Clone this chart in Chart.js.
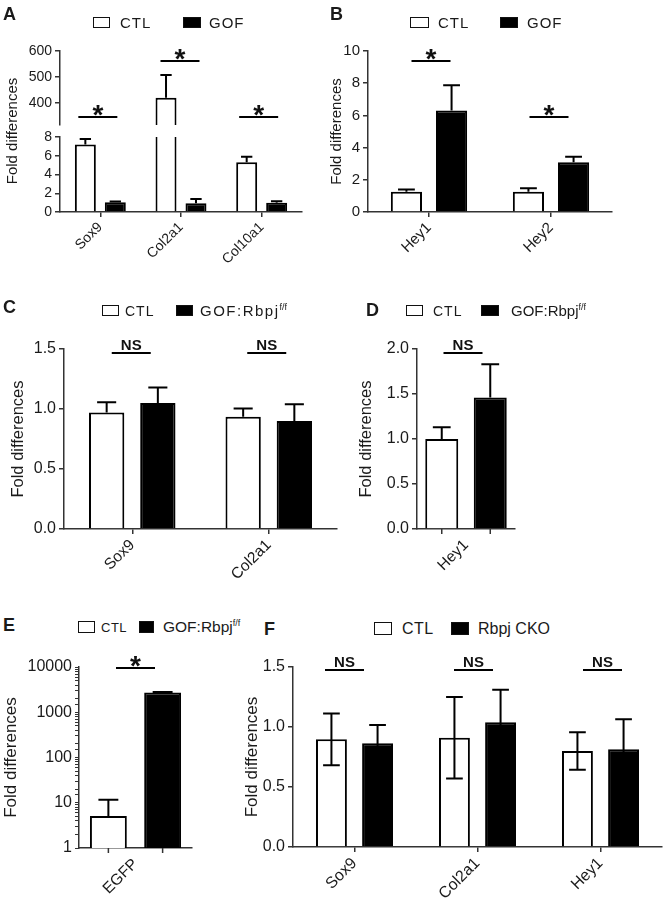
<!DOCTYPE html>
<html>
<head>
<meta charset="utf-8">
<script src="https://cdn.jsdelivr.net/npm/chart.js@4.4.1/dist/chart.umd.min.js"></script>
<style>
  body { margin: 0; background: #fff; }
  #fig { position: relative; width: 666px; height: 911px; overflow: hidden;
         font-family: "Liberation Sans", Arial, sans-serif; color: #1a1a1a; }
  #fig canvas { position: absolute; }
  .letter { position: absolute; font-weight: bold; font-size: 18px; line-height: 1; }
  .box { position: absolute; box-sizing: border-box; border: 1.6px solid #111; background: #fff; }
  .box.fill { background: #000; }
  .txt { position: absolute; line-height: 1; white-space: nowrap; }
  .sup { font-size: 9px; position: relative; top: -6px; letter-spacing: 0; }
</style>
</head>
<body>
<div id="fig"></div>
<script>
// -------------------- DATA -------------------
// A
const genesA = ['Sox9', 'Col2a1', 'Col10a1'];
const ctlA = [7.2, 420, 5.3];
const ctlErrA = [0.6, 88, 0.6];
const gofA = [1.05, 0.93, 1.0];
const gofErrA = [0.08, 0.45, 0.15];
const sigA = ['*', '*', '*'];

// B
const genesB = ['Hey1', 'Hey2'];
const ctlB = [1.26, 1.26];
const ctlErrB = [0.14, 0.21];
const gofB = [6.3, 3.09];
const gofErrB = [1.57, 0.34];
const sigB = ['*', '*'];

// C
const genesC = ['Sox9', 'Col2a1'];
const ctlC = [0.97, 0.935];
const ctlErrC = [0.086, 0.07];
const gofC = [1.05, 0.90];
const gofErrC = [0.13, 0.14];
const sigC = ['NS', 'NS'];

// D
const genesD = ['Hey1'];
const ctlD = [1.0];
const ctlErrD = [0.13];
const gofD = [1.46];
const gofErrD = [0.37];
const sigD = ['NS'];

// E
const genesE = ['EGFP'];
const ctlE = [5.1];
const ctlErrE = [6.6];
const gofE = [2740];
const gofErrE = [60];
const sigE = ['*'];
const logTicksE = [1, 10, 100, 1000, 10000];

// F
const genesF = ['Sox9', 'Col2a1', 'Hey1'];
const ctlF = [0.897, 0.91, 0.80];
const ctlErrF = [0.215, 0.34, 0.157];
const gofF = [0.864, 1.04, 0.814];
const gofErrF = [0.153, 0.27, 0.25];
const sigF = ['NS', 'NS', 'NS'];

// -------------------- GLOBALS -------------------
const FONT = '"Liberation Sans", Arial, sans-serif';
const AXIS = '#333';
const TXT = '#1a1a1a';
const TITLE_PAD = 2;
const X_HEIGHT = 60;
let Fig = document.getElementById('fig');

Chart.defaults.font.family = FONT;
Chart.defaults.color = TXT;

// -------------------- FUNCTIONS -------------------
function Frame(p) {
  // works out canvas placement so that the plot area lands on p.plot
  let half = p.titleSize * 1.2 / 2;
  let left = Math.round(p.titleX - TITLE_PAD - half);
  let [l, t, r, b] = p.plot;
  let width = r + 4 - left;
  let canvas = document.createElement('canvas');
  canvas.width = width; canvas.height = p.height;
  canvas.style.left = left + 'px';
  canvas.style.top = p.top + 'px';
  canvas.style.width = width + 'px';
  canvas.style.height = p.height + 'px';
  Fig.appendChild(canvas);
  p.yWidth = l - left;
  p.padding = {left: 0, right: 4, top: t - p.top, bottom: p.top + p.height - b - X_HEIGHT};
  return canvas;
}

function YAxis(p, extra) {
  let axis = {
    position: 'left',
    stacked: false,
    border: {color: AXIS, width: 1.5},
    grid: {drawOnChartArea: false, tickLength: 5, color: AXIS, lineWidth: 1.5},
    ticks: {font: {size: p.tickSize}, color: TXT, padding: 3, autoSkip: false},
    title: {display: true, text: 'Fold differences', color: TXT,
            font: {size: p.titleSize}, padding: {top: TITLE_PAD, bottom: 0}},
    afterFit: s => { s.width = p.yWidth; }
  };
  for (let k in extra) {
    if (typeof extra[k] === 'object' && axis[k]) Object.assign(axis[k], extra[k]);
    else axis[k] = extra[k];
  }
  return axis;
}

function XAxis(p) {
  return {
    type: 'category',
    offset: true,
    border: {color: AXIS, width: 1.5},
    grid: {drawOnChartArea: false, offset: false, tickLength: 5,
           color: p.barTicks ? 'rgba(0,0,0,0)' : AXIS, lineWidth: 1.5},
    ticks: {font: {size: p.xSize}, color: TXT, minRotation: 45, maxRotation: 45,
            autoSkip: false, padding: 2},
    afterFit: s => { s.height = X_HEIGHT; }
  };
}

function Bars(label, data, errors, filled, axis, both) {
  return {
    label: label,
    data: data,
    errors: errors,
    bothWays: !!both,
    yAxisID: axis || 'y',
    backgroundColor: filled ? '#000' : '#fff',
    borderColor: '#000',
    borderWidth: 2
  };
}

function Extras(p) {
  return {
    id: 'extras',
    beforeDatasetDraw(chart, args) {
      // each dataset is kept inside its own y axis band
      let ys = chart.scales[args.meta.yAxisID];
      let area = chart.chartArea;
      chart.ctx.save();
      chart.ctx.beginPath();
      chart.ctx.rect(area.left, ys.top, area.width + 2, ys.bottom - ys.top + 2);
      chart.ctx.clip();
    },
    afterDatasetDraw(chart, args) {
      let ctx = chart.ctx;
      let ds = chart.data.datasets[args.index];
      let ys = chart.scales[args.meta.yAxisID];
      ctx.lineWidth = 2;
      ctx.strokeStyle = '#000';
      args.meta.data.forEach((bar, i) => {
        let v = ds.data[i];
        if (v === null || v === undefined) return;
        let hi = ys.getPixelForValue(v + ds.errors[i]);
        let lo = ds.bothWays ? ys.getPixelForValue(v - ds.errors[i]) : bar.y;
        let cap = bar.width * 0.27;
        ctx.beginPath();
        ctx.moveTo(bar.x, lo); ctx.lineTo(bar.x, hi);
        ctx.moveTo(bar.x - cap, hi); ctx.lineTo(bar.x + cap, hi);
        if (ds.bothWays) { ctx.moveTo(bar.x - cap, lo); ctx.lineTo(bar.x + cap, lo); }
        ctx.stroke();
      });
      ctx.restore();
    },
    afterDraw(chart) {
      let ctx = chart.ctx;
      let xs = chart.scales.x;
      let ys = chart.scales[p.sigAxis || 'y'];
      ctx.save();
      ctx.strokeStyle = '#000';
      ctx.fillStyle = '#111';
      ctx.lineWidth = 2;
      ctx.textAlign = 'center';
      ctx.textBaseline = 'alphabetic';
      p.sig.forEach((txt, i) => {
        let cx = xs.getPixelForValue(i) + p.sigDx[i];
        let y = Math.round(ys.getPixelForValue(p.sigY[i]));
        ctx.beginPath();
        ctx.moveTo(cx - 19.5, y); ctx.lineTo(cx + 19.5, y);
        ctx.stroke();
        if (txt === '*') {
          ctx.font = 'bold 28px ' + FONT;
          ctx.fillText(txt, cx, y + 6.5);
        } else {
          ctx.font = 'bold 15px ' + FONT;
          ctx.fillText(txt, cx, y - 3.5);
        }
      });
      if (p.barTicks) {
        let bottom = chart.chartArea.bottom;
        ctx.lineWidth = 1.5;
        ctx.strokeStyle = AXIS;
        chart.data.datasets.forEach((d, k) => {
          chart.getDatasetMeta(k).data.forEach(bar => {
            ctx.beginPath();
            ctx.moveTo(bar.x, bottom); ctx.lineTo(bar.x, bottom + 5);
            ctx.stroke();
          });
        });
      }
      ctx.restore();
    }
  };
}

function Options(p, scales) {
  return {
    responsive: false,
    animation: false,
    events: [],
    layout: {autoPadding: false, padding: p.padding},
    datasets: {bar: {categoryPercentage: p.cat, barPercentage: p.bar}},
    plugins: {legend: {display: false}, tooltip: {enabled: false}},
    scales: scales
  };
}

function PrintBars(p, labels, datasets, scales) {
  let canvas = Frame(p);
  return new Chart(canvas, {
    type: 'bar',
    data: {labels: labels, datasets: datasets},
    options: Options(p, scales(p)),
    plugins: [Extras(p)]
  });
}

function Letter(ch, x, y) {
  let d = document.createElement('div');
  d.className = 'letter';
  d.style.left = x + 'px'; d.style.top = y + 'px';
  d.textContent = ch;
  Fig.appendChild(d);
}

function LegendItem(x, y, w, h, filled, text, tx, size, spacing) {
  let b = document.createElement('div');
  b.className = filled ? 'box fill' : 'box';
  b.style.left = x + 'px'; b.style.top = y + 'px';
  b.style.width = w + 'px'; b.style.height = h + 'px';
  Fig.appendChild(b);
  let t = document.createElement('div');
  t.className = 'txt';
  t.style.left = tx + 'px';
  t.style.top = (y + h / 2 - size * 0.49) + 'px';
  t.style.fontSize = size + 'px';
  t.style.letterSpacing = spacing + 'px';
  t.innerHTML = text;
  Fig.appendChild(t);
}

// -------------------- PANELS -------------------
const GOF_RBPJ = 'GOF:Rbpj<span class="sup">f/f</span>';

// A: broken y axis made of two stacked scales with a gap scale between
// (left-hand stacks are laid out last-key-first, so the low band is listed first)
PrintBars(
  {top: 0, height: 290, plot: [60, 51, 302, 212], titleX: 13, titleSize: 15, tickSize: 14, xSize: 14,
   cat: 0.743, bar: 0.70, sig: sigA, sigY: [346, 562, 346], sigDx: [-2.5, -1, -3], sigAxis: 'yTop'},
  genesA,
  [
    Bars('CTL', ctlA, ctlErrA, false, 'yLow'),
    Bars('CTL', ctlA.map(v => v > 8 ? v : null), ctlErrA, false, 'yTop'),
    Bars('GOF', gofA, gofErrA, true, 'yLow')
  ].map((d, i) => Object.assign(d, {stack: i < 2 ? 'ctl' : 'gof'})),
  p => ({
    x: XAxis(p),
    yLow: YAxis(p, {min: 0, max: 8, stack: 'ya', stackWeight: 75,
                    ticks: {stepSize: 2}, title: {display: false}}),
    yGap: YAxis(p, {min: 0, max: 1, stack: 'ya', stackWeight: 12,
                    border: {display: false}, grid: {display: false}, ticks: {display: false}}),
    yTop: YAxis(p, {min: 315, max: 600, stack: 'ya', stackWeight: 74,
                    ticks: {stepSize: 100, includeBounds: false}, title: {display: false}})
  })
);

// B
PrintBars(
  {top: 0, height: 290, plot: [368, 51, 612, 212], titleX: 337, titleSize: 15, tickSize: 15, xSize: 15,
   cat: 0.74, bar: 0.69, sig: sigB, sigY: [9.38, 5.9], sigDx: [2, -2]},
  genesB,
  [Bars('CTL', ctlB, ctlErrB, false), Bars('GOF', gofB, gofErrB, true)],
  p => ({x: XAxis(p), y: YAxis(p, {min: 0, max: 10, ticks: {stepSize: 2}})})
);

// C
PrintBars(
  {top: 290, height: 300, plot: [64, 349, 337, 529], titleX: 19, titleSize: 16.5, tickSize: 16, xSize: 15.5,
   cat: 0.75, bar: 0.69, sig: sigC, sigY: [1.47, 1.47], sigDx: [-1, -2]},
  genesC,
  [Bars('CTL', ctlC, ctlErrC, false), Bars('GOF:Rbpj f/f', gofC, gofErrC, true)],
  p => ({x: XAxis(p), y: YAxis(p, {min: 0, max: 1.5, ticks: {stepSize: 0.5, callback: v => v.toFixed(1)}})})
);

// D
PrintBars(
  {top: 290, height: 300, plot: [417, 349, 515, 529], titleX: 367, titleSize: 16.5, tickSize: 16, xSize: 15.5,
   cat: 0.99, bar: 0.68, sig: sigD, sigY: [1.96], sigDx: [-3], barTicks: true},
  genesD,
  [Bars('CTL', ctlD, ctlErrD, false), Bars('GOF:Rbpj f/f', gofD, gofErrD, true)],
  p => ({x: XAxis(p), y: YAxis(p, {min: 0, max: 2, ticks: {stepSize: 0.5, callback: v => v.toFixed(1)}})})
);

// E (log scale)
PrintBars(
  {top: 640, height: 271, plot: [79, 667, 192, 848], titleX: 11, titleSize: 17, tickSize: 16, xSize: 15.5,
   cat: 0.96, bar: 0.68, sig: sigE, sigY: [9500], sigDx: [0], barTicks: true},
  genesE,
  [Bars('CTL', ctlE, ctlErrE, false), Bars('GOF:Rbpj f/f', gofE, gofErrE, true)],
  p => ({x: XAxis(p), y: YAxis(p, {type: 'logarithmic', min: 1, max: 10000,
    grid: {tickLength: 4, lineWidth: 1},
    ticks: {callback: v => logTicksE.includes(v) ? String(v) : ''}})})
);

// F (error bars both ways)
PrintBars(
  {top: 640, height: 271, plot: [293, 667, 662, 847], titleX: 252, titleSize: 17, tickSize: 16, xSize: 16,
   cat: 0.75, bar: 0.67, sig: sigF, sigY: [1.475, 1.475, 1.475], sigDx: [-10, -4, 2]},
  genesF,
  [Bars('CTL', ctlF, ctlErrF, false, 'y', true), Bars('Rbpj CKO', gofF, gofErrF, true, 'y', true)],
  p => ({x: XAxis(p), y: YAxis(p, {min: 0, max: 1.5, ticks: {stepSize: 0.5, callback: v => v.toFixed(1)}})})
);

// -------------------- LETTERS & LEGENDS -------------------
Letter('A', 3, 5);
Letter('B', 330, 5);
Letter('C', 3, 298);
Letter('D', 366, 301);
Letter('E', 3, 616);
Letter('F', 264, 620);

LegendItem(93, 17, 17, 11, false, 'CTL', 120, 15, 1);
LegendItem(183, 17, 18, 11, true, 'GOF', 209, 15, 1);
LegendItem(410, 17, 19, 11, false, 'CTL', 438, 15, 1);
LegendItem(500, 17, 18, 11, true, 'GOF', 527, 15, 1);
LegendItem(102, 305, 17, 11, false, 'CTL', 125, 14, 1);
LegendItem(176, 305, 17, 11, true, GOF_RBPJ, 200, 15, 1.5);
LegendItem(406, 305, 17, 11, false, 'CTL', 433, 14, 1);
LegendItem(481, 305, 18, 11, true, GOF_RBPJ, 511, 15, 0);
LegendItem(78, 621, 17, 12, false, 'CTL', 101, 13, 0.5);
LegendItem(139, 621, 15, 12, true, GOF_RBPJ, 163, 15.5, 0);
LegendItem(374, 622, 18, 13, false, 'CTL', 402, 16, 0.5);
LegendItem(451, 622, 18, 13, true, 'Rbpj CKO', 478, 16, 0);
</script>
</body>
</html>
